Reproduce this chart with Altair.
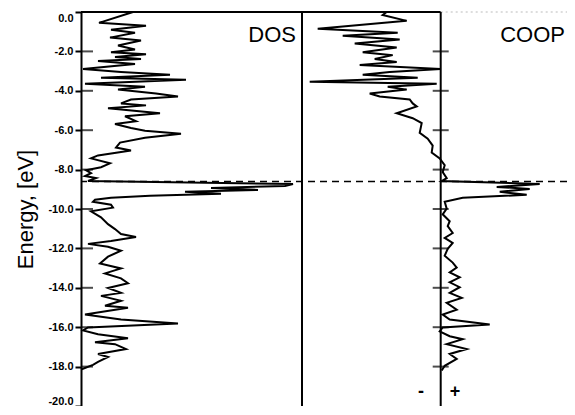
import altair as alt
import pandas as pd

# ---------------- data ----------------
dos_energy = [0.00, -0.55, -0.70, -0.90, -1.05, -1.30, -1.45, -1.70, -1.90, -2.04,
              -2.14, -2.29, -2.39, -2.49, -2.64, -2.89, -3.04, -3.19, -3.34, -3.44,
              -3.64, -3.79, -3.94, -4.14, -4.29, -4.44, -4.64, -4.74, -4.89, -5.14,
              -5.29, -5.54, -5.69, -5.89, -6.03, -6.18, -6.38, -6.63, -6.88, -7.03,
              -7.28, -7.43, -7.68, -7.88, -8.03, -8.18, -8.33, -8.43, -8.58, -8.73,
              -8.83, -8.93, -9.03, -9.13, -9.23, -9.33, -9.43, -9.53, -9.63, -9.78,
              -9.93, -10.12, -10.42, -10.77, -11.02, -11.27, -11.42, -11.62, -11.77, -11.92,
              -12.12, -12.42, -12.77, -13.02, -13.27, -13.52, -13.77, -14.01, -14.26, -14.41,
              -14.66, -14.91, -15.01, -15.36, -15.61, -15.81, -16.01, -16.16, -16.36, -16.56,
              -16.76, -16.86, -17.11, -17.36, -17.51, -17.76, -17.91, -18.15]
dos_values = [52, 18, 65, 30, 54, 29, 60, 37, 54, 30,
              65, 34, 60, 17, 54, 2, 40, 89, 20, 105,
              4, 64, 37, 75, 97, 50, 40, 65, 27, 79,
              44, 55, 34, 50, 64, 100, 64, 39, 35, 50,
              17, 10, 29, 20, 5, 10, 4, 15, 7, 212,
              204, 130, 177, 104, 140, 69, 30, 14, 12, 30,
              32, 10, 20, 27, 34, 40, 55, 30, 7, 27,
              40, 27, 19, 40, 24, 40, 47, 27, 40, 20,
              40, 24, 47, 4, 40, 97, 7, 2, 17, 47,
              14, 34, 45, 17, 27, 17, 12, 0]

coop_energy = [0.00, -0.15, -0.45, -0.85, -1.05, -1.20, -1.40, -1.60, -1.80, -2.04,
               -2.19, -2.39, -2.54, -2.69, -2.89, -3.04, -3.19, -3.34, -3.54, -3.64,
               -3.79, -3.94, -4.14, -4.29, -4.44, -4.64, -4.79, -5.14, -5.39, -5.64,
               -6.13, -6.43, -6.78, -7.13, -7.43, -7.78, -8.13, -8.43, -8.58, -8.73,
               -8.88, -8.98, -9.13, -9.28, -9.43, -9.63, -9.98, -10.27, -10.62, -10.87,
               -11.22, -11.47, -11.72, -12.02, -12.37, -12.72, -12.97, -13.22, -13.47, -13.72,
               -13.97, -14.26, -14.51, -14.76, -15.11, -15.36, -15.61, -15.86, -16.01, -16.21,
               -16.46, -16.61, -16.86, -17.11, -17.36, -17.61, -17.96, -18.20]
coop_values = [-54, -58, -34, -123, -43, -98, -41, -86, -44, -78,
               -48, -66, -44, -81, 0, -51, -78, -23, -131, -4,
               -53, -34, -71, -61, -31, -28, -24, -44, -28, -19,
               -21, -13, -8, -9, -1, 4, 2, 6, 1, 99,
               56, 89, 59, 86, 22, 4, 6, 2, 9, 7,
               12, 4, 12, 7, 4, 12, 16, 9, 19, 9,
               19, 9, 21, 6, 16, 2, 9, 49, 2, -1,
               9, 22, 6, 26, 9, 16, 4, 1]

y_ticks = [0, -2, -4, -6, -8, -10, -12, -14, -16, -18, -20]
coop_ticks = [-2, -4, -6, -8, -10, -12, -14, -16, -18]
fermi_level = -8.6

# ---------------- layout constants ----------------
E_MIN, E_MAX = -20, 0
DOS_W = 221                 # width of the DOS panel (x units)
COOP_NEG = 138.7            # negative COOP extent shown
COOP_ZERO = DOS_W + COOP_NEG
PLOT_W, PLOT_H = 486, 394
FONT = "Liberation Sans"

dos_df = pd.DataFrame({"E": dos_energy, "DOS": dos_values, "i": range(len(dos_values))})
coop_df = pd.DataFrame({"E": coop_energy, "COOP": coop_values, "i": range(len(coop_values))})
tick_df = pd.DataFrame({"E": y_ticks[1:-1]})
coop_tick_df = pd.DataFrame({"E": coop_ticks})

yscale = alt.Scale(domain=[E_MIN, E_MAX], nice=False, zero=False)
xscale = alt.Scale(domain=[0, PLOT_W], nice=False, zero=False)

yaxis = alt.Axis(values=y_ticks,
                 labelExpr="replace(format(datum.value, '.1f'), '\u2212', '-')",
                 grid=False, domainColor="black", domainWidth=2, tickColor="black",
                 tickWidth=2, tickSize=6, labelPadding=2, labelFont=FONT,
                 labelFontSize=11, labelFontWeight="bold", labelColor="black",
                 labelFlush=True, labelOverlap=False,
                 title="Energy, [eV]", titleFont=FONT, titleFontSize=22,
                 titleFontWeight="normal", titleColor="black", titleAngle=270,
                 titleBaseline="alphabetic", titleX=-49)


def yfield():
    return alt.Y("E:Q", scale=yscale, axis=yaxis)


def ydatum(v):
    return alt.Y(datum=v, type="quantitative", scale=yscale, axis=yaxis)


def xdatum(v):
    return alt.X(datum=v, type="quantitative", scale=xscale, axis=None)


# ---------------- DOS part ----------------
dos_line = alt.Chart(dos_df).mark_line(color="black", strokeWidth=2).encode(
    x=alt.X("DOS:Q", scale=xscale, axis=None),
    y=yfield(),
    order="i:Q",
)
dos_inner_ticks = alt.Chart(tick_df).mark_tick(
    orient="horizontal", size=12, thickness=2, color="black", xOffset=6
).encode(x=xdatum(0), y=yfield())
top_left = alt.Chart().mark_rule(color="black", strokeWidth=2).encode(
    x=xdatum(0), x2=alt.X2(datum=COOP_ZERO), y=ydatum(E_MAX))
top_right = alt.Chart().mark_rule(color="#bbbbbb", strokeWidth=1, strokeDash=[2, 3]).encode(
    x=xdatum(COOP_ZERO), x2=alt.X2(datum=PLOT_W), y=ydatum(E_MAX))
divider = alt.Chart().mark_rule(color="black", strokeWidth=2).encode(x=xdatum(DOS_W))
fermi = alt.Chart().mark_rule(color="black", strokeWidth=1.5, strokeDash=[7, 5]).encode(
    y=ydatum(fermi_level))
dos_label = alt.Chart().mark_text(
    text="DOS", font=FONT, fontSize=22, align="right", baseline="alphabetic", color="black"
).encode(x=xdatum(DOS_W - 6), y=ydatum(-1.5))

# ---------------- COOP part ----------------
coop_line = alt.Chart(coop_df).transform_calculate(
    X=f"datum.COOP + {COOP_ZERO}"
).mark_line(color="black", strokeWidth=2).encode(
    x=alt.X("X:Q", scale=xscale, axis=None),
    y=yfield(),
    order="i:Q",
)
coop_zero = alt.Chart().mark_rule(color="black", strokeWidth=2).encode(x=xdatum(COOP_ZERO))
coop_ticks_mark = alt.Chart(coop_tick_df).mark_tick(
    orient="horizontal", size=16, thickness=2, color="black"
).encode(x=xdatum(COOP_ZERO), y=yfield())
coop_label = alt.Chart().mark_text(
    text="COOP", font=FONT, fontSize=22, align="right", baseline="alphabetic", color="black"
).encode(x=xdatum(PLOT_W - 2), y=ydatum(-1.5))
minus_label = alt.Chart().mark_text(
    text="-", font=FONT, fontSize=18, fontWeight="bold", align="center", baseline="alphabetic",
    color="black").encode(x=xdatum(COOP_ZERO - 19.7), y=ydatum(-19.55))
plus_label = alt.Chart().mark_text(
    text="+", font=FONT, fontSize=18, fontWeight="bold", align="center", baseline="alphabetic",
    color="black").encode(x=xdatum(COOP_ZERO + 14.3), y=ydatum(-19.55))

chart = alt.layer(
    dos_line, coop_line, dos_inner_ticks, coop_ticks_mark, top_left, top_right, divider,
    coop_zero, fermi, dos_label, coop_label, minus_label, plus_label
).properties(
    width=PLOT_W, height=PLOT_H,
    autosize=alt.AutoSizeParams(type="none"),
    padding={"left": 73, "top": 4, "right": 0, "bottom": 0},
    background="white",
).configure_view(stroke=None)

chart.save("out.html", embed_options={"renderer": "svg", "actions": False})
